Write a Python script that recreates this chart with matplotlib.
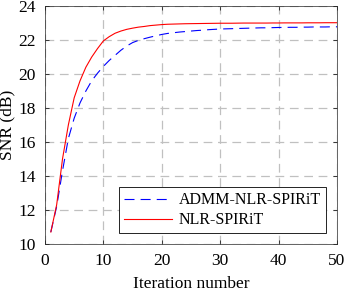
import matplotlib
matplotlib.use("Agg")
import matplotlib.pyplot as plt

iterations = list(range(1, 51))

snr_nlr_spirit = [
    10.7, 12.3, 15.0, 17.0, 18.6, 19.6, 20.4, 21.0, 21.5, 21.95,
    22.2, 22.4, 22.53, 22.63, 22.7, 22.76, 22.8, 22.85, 22.88, 22.91,
    22.93, 22.94, 22.95, 22.96, 22.965, 22.97, 22.975, 22.98, 22.985, 22.99,
    22.99, 22.99, 22.995, 23.0, 23.0, 23.0, 23.0, 23.0, 23.005, 23.005,
    23.01, 23.01, 23.01, 23.01, 23.015, 23.015, 23.015, 23.02, 23.02, 23.02,
]

snr_admm = [
    10.7, 12.2, 14.3, 16.2, 17.4, 18.3, 19.0, 19.6, 20.05, 20.45,
    20.8, 21.1, 21.4, 21.65, 21.85, 21.98, 22.08, 22.17, 22.25, 22.33,
    22.39, 22.43, 22.47, 22.5, 22.53, 22.56, 22.58, 22.61, 22.63, 22.65,
    22.66, 22.67, 22.68, 22.69, 22.7, 22.71, 22.72, 22.72, 22.73, 22.74,
    22.74, 22.75, 22.75, 22.76, 22.76, 22.77, 22.77, 22.77, 22.78, 22.78,
]

x_ticks = [0, 10, 20, 30, 40, 50]
y_ticks = [10, 12, 14, 16, 18, 20, 22, 24]

plt.rcParams["font.family"] = ["Liberation Serif", "DejaVu Serif"]
plt.rcParams["font.size"] = 12.5

fig = plt.figure(figsize=(3.46, 2.89), dpi=100)
ax = fig.add_axes([0.130, 0.156, 0.844, 0.823])

ax.plot(iterations, snr_admm, color="#0000ff", linewidth=0.8,
        dashes=(9, 5.5), label="ADMM-NLR-SPIRiT")
ax.plot(iterations, snr_nlr_spirit, color="#ff0000", linewidth=0.8,
        label="NLR-SPIRiT")

ax.set_xlim(0, 50)
ax.set_ylim(10, 24)
ax.set_xticks(x_ticks)
ax.set_yticks(y_ticks)
ax.grid(True, color="#c0c0c0", linestyle=(0, (7, 4.5)), linewidth=0.9)
ax.set_axisbelow(True)
ax.tick_params(direction="in", length=3, width=0.5, top=True, right=True,
               pad=6.5)
for spine in ax.spines.values():
    spine.set_linewidth(0.5)
    spine.set_color("#262626")

ax.set_xlabel("Iteration number", labelpad=5)
ax.set_ylabel("SNR (dB)", labelpad=2)

leg = ax.legend(loc="lower right", fancybox=False, framealpha=1,
                edgecolor="black", fontsize=11.5, handlelength=3.0,
                borderpad=0.3, labelspacing=0.25, handletextpad=0.45,
                borderaxespad=0, bbox_to_anchor=(0.962, 0.046))
leg.get_frame().set_linewidth(0.6)

fig.savefig("out.png", dpi=100)
plt.close(fig)
